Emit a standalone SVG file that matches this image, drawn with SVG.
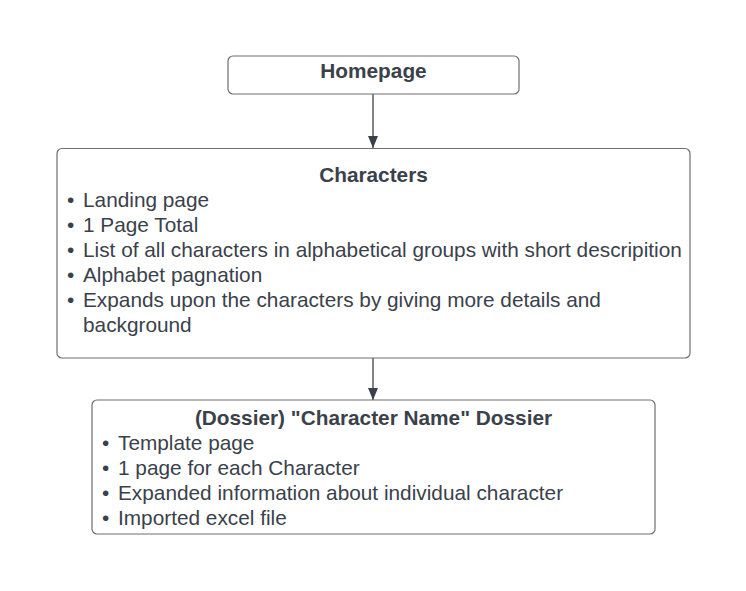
<svg xmlns="http://www.w3.org/2000/svg" width="746" height="591" viewBox="0 0 746 591">
<defs>
<style>
.box{fill:#ffffff;stroke:#6b6e73;stroke-width:1.2}
.t{font-family:"Liberation Sans",Arial,sans-serif;font-size:20.8px;fill:#3a414a}
.b{font-weight:bold}
.c{stroke:#3a414a;stroke-width:1.3;fill:none}
</style>
<marker id="arr" markerWidth="12" markerHeight="14" refX="12" refY="6" orient="auto" markerUnits="userSpaceOnUse" viewBox="0 0 12 12">
<path d="M0,1 L12,6 L0,11 Z" fill="#3a414a"/>
</marker>
</defs>
<rect width="746" height="591" fill="#ffffff"/>
<g id="connectors">
<line class="c" x1="373" y1="94" x2="373" y2="148" marker-end="url(#arr)"/>
<line class="c" x1="373" y1="358" x2="373" y2="400" marker-end="url(#arr)"/>
</g>
<g id="homepage">
<rect class="box" x="228" y="56" width="291" height="38" rx="5"/>
<text class="t b" x="373.5" y="78" text-anchor="middle">Homepage</text>
</g>
<g id="characters">
<rect class="box" x="57" y="148.5" width="633" height="209.5" rx="5"/>
<text class="t b" x="373.5" y="182" text-anchor="middle">Characters</text>
<text class="t"><tspan x="67" y="207">•</tspan><tspan x="83" y="207">Landing page</tspan><tspan x="67" y="232">•</tspan><tspan x="83" y="232">1 Page Total</tspan><tspan x="67" y="257">•</tspan><tspan x="83" y="257">List of all characters in alphabetical groups with short descripition</tspan><tspan x="67" y="282">•</tspan><tspan x="83" y="282">Alphabet pagnation</tspan><tspan x="67" y="307">•</tspan><tspan x="83" y="307">Expands upon the characters by giving more details and</tspan><tspan x="83" y="332">background</tspan></text>
</g>
<g id="dossier">
<rect class="box" x="92" y="400" width="563" height="134" rx="5"/>
<text class="t b" x="373.5" y="425" text-anchor="middle">(Dossier) "Character Name" Dossier</text>
<text class="t"><tspan x="102" y="450">•</tspan><tspan x="118" y="450">Template page</tspan><tspan x="102" y="475">•</tspan><tspan x="118" y="475">1 page for each Character</tspan><tspan x="102" y="500">•</tspan><tspan x="118" y="500">Expanded information about individual character</tspan><tspan x="102" y="525">•</tspan><tspan x="118" y="525">Imported excel file</tspan></text>
</g>
</svg>
